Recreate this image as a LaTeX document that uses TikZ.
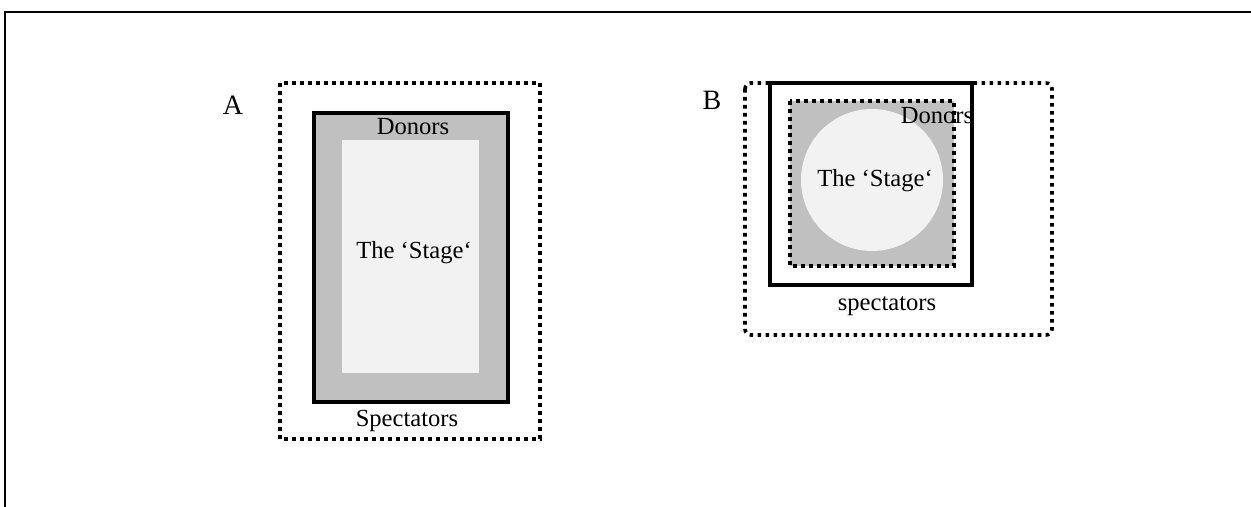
\documentclass[tikz,border=0pt]{standalone}
\usepackage{fontspec}
\setmainfont{Liberation Serif}
\usepackage{xcolor}
\usepackage{tikz}
\definecolor{donorgray}{HTML}{C0C0C0}
\definecolor{stagegray}{HTML}{F2F2F2}

\begin{document}
\begin{tikzpicture}[x=0.5pt, y=-0.5pt,
  crowd/.style={draw=black, line width=1.8pt, dash pattern=on 1.8pt off 2.2pt},
  donor/.style={draw=black, line width=1.8pt},
  stage/.style={fill=stagegray},
  txt/.style={inner sep=0pt, font=\fontsize{12.3}{15}\selectfont},
  tag/.style={inner sep=0pt, font=\fontsize{14}{16}\selectfont}]
\useasboundingbox (0,0) rectangle (1251,507);
\draw[line width=1pt] (5,507) -- (5,12) -- (1251,12);

% left layout: nested rectangles
\node[tag] (a) at (233,105) {A};
\path[crowd] (280,83) rectangle (540,439);
\path[donor, fill=donorgray] (314,113) rectangle (508,402);
\path[stage] (342,140) rectangle (479,373);
\node[txt] (donorsA) at (413,127) {Donors};
\node[txt] (stageA) at (414,253) {The ‘Stage‘};
\node[txt] (spectA) at (407,421) {Spectators};

% right layout: circular stage
\node[tag] (b) at (712,100) {B};
\path[crowd, rounded corners=3pt] (745,83) rectangle (1052,335);
\path[donor] (770,83) rectangle (972,285);
\path[crowd, fill=donorgray] (790,101) rectangle (954,266);
\path[stage] (872,180) circle [radius=35.5pt];
\node[txt] (donorsB) at (937,116) {Donors};
\node[txt] (stageB) at (875,181) {The ‘Stage‘};
\node[txt] (spectB) at (887,306) {spectators};
\end{tikzpicture}
\end{document}
